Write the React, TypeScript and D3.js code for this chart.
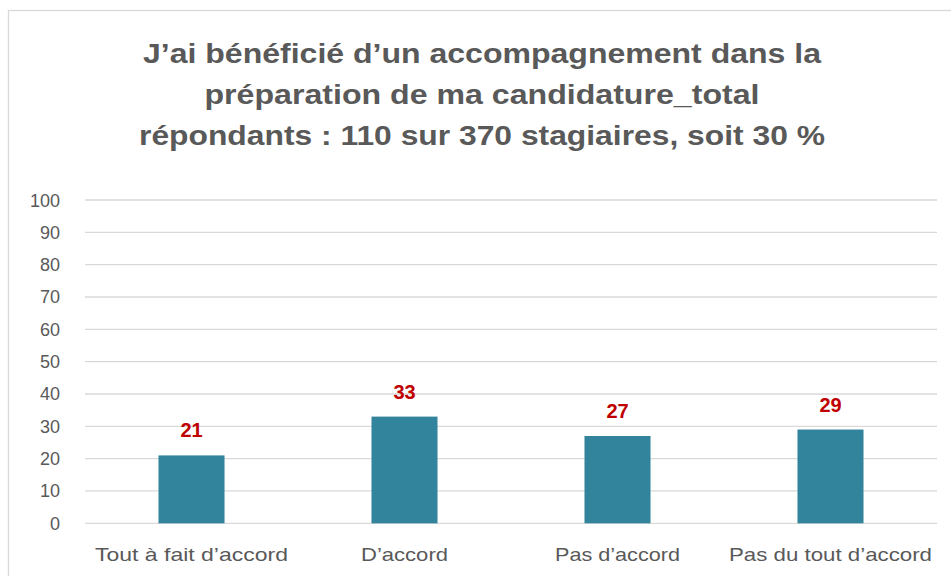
import React from "react";
import * as d3 from "d3";

const titleLines = [
  "J\u2019ai bénéficié d\u2019un accompagnement dans la",
  "préparation de ma candidature_total",
  "répondants : 110 sur 370 stagiaires, soit 30 %",
];
const categories = [
  "Tout à fait d\u2019accord",
  "D\u2019accord",
  "Pas d\u2019accord",
  "Pas du tout d\u2019accord",
];
const values = [21, 33, 27, 29];
const yTicks = [0, 10, 20, 30, 40, 50, 60, 70, 80, 90, 100];

const W = 951;
const H = 576;
const plot = { left: 85, right: 937, top: 200, bottom: 523.3 };
const titleWidths = [678, 555, 686];
const catWidths = [193, 87, 125, 203];

export default function App() {
  const x = d3
    .scaleBand<string>()
    .domain(categories)
    .range([plot.left, plot.right])
    .paddingInner(0.69)
    .paddingOuter(0.345);
  const y = d3.scaleLinear().domain([0, 100]).range([plot.bottom, plot.top]);
  const grey = "#595959";
  const font = "'Liberation Sans', Arial, sans-serif";

  return (
    <svg
      width={W}
      height={H}
      style={{ position: "absolute", left: 0, top: 0, background: "#fff" }}
      fontFamily={font}
    >
      <rect x={0} y={0} width={W} height={H} fill="#fff" />
      <rect x={8.5} y={10.5} width={1000} height={700} fill="none" stroke="#d9d9d9" strokeWidth={1.3} />
      {titleLines.map((t, i) => (
        <text
          key={i}
          x={482}
          y={63 + i * 41}
          textAnchor="middle"
          fontSize={28}
          fontWeight="bold"
          fill={grey}
          textLength={titleWidths[i]}
          lengthAdjust="spacingAndGlyphs"
        >
          {t}
        </text>
      ))}
      {yTicks.map((t) => (
        <g key={t}>
          <line x1={plot.left} x2={plot.right} y1={y(t)} y2={y(t)} stroke="#d9d9d9" strokeWidth={1.3} />
          <text x={60} y={y(t) + 6.5} textAnchor="end" fontSize={18} fill={grey}>
            {t}
          </text>
        </g>
      ))}
      {categories.map((c, i) => {
        const bx = x(c)!;
        const bw = x.bandwidth();
        return (
          <g key={c}>
            <rect x={bx} y={y(values[i])} width={bw} height={y(0) - y(values[i])} fill="#31849B" />
            <text
              x={bx + bw / 2}
              y={y(values[i]) - 18}
              textAnchor="middle"
              fontSize={20}
              fontWeight="bold"
              fill="#C00000"
            >
              {d3.format("d")(values[i])}
            </text>
            <text
              x={bx + bw / 2}
              y={561}
              textAnchor="middle"
              fontSize={19}
              fill={grey}
              textLength={catWidths[i]}
              lengthAdjust="spacingAndGlyphs"
            >
              {c}
            </text>
          </g>
        );
      })}
    </svg>
  );
}
